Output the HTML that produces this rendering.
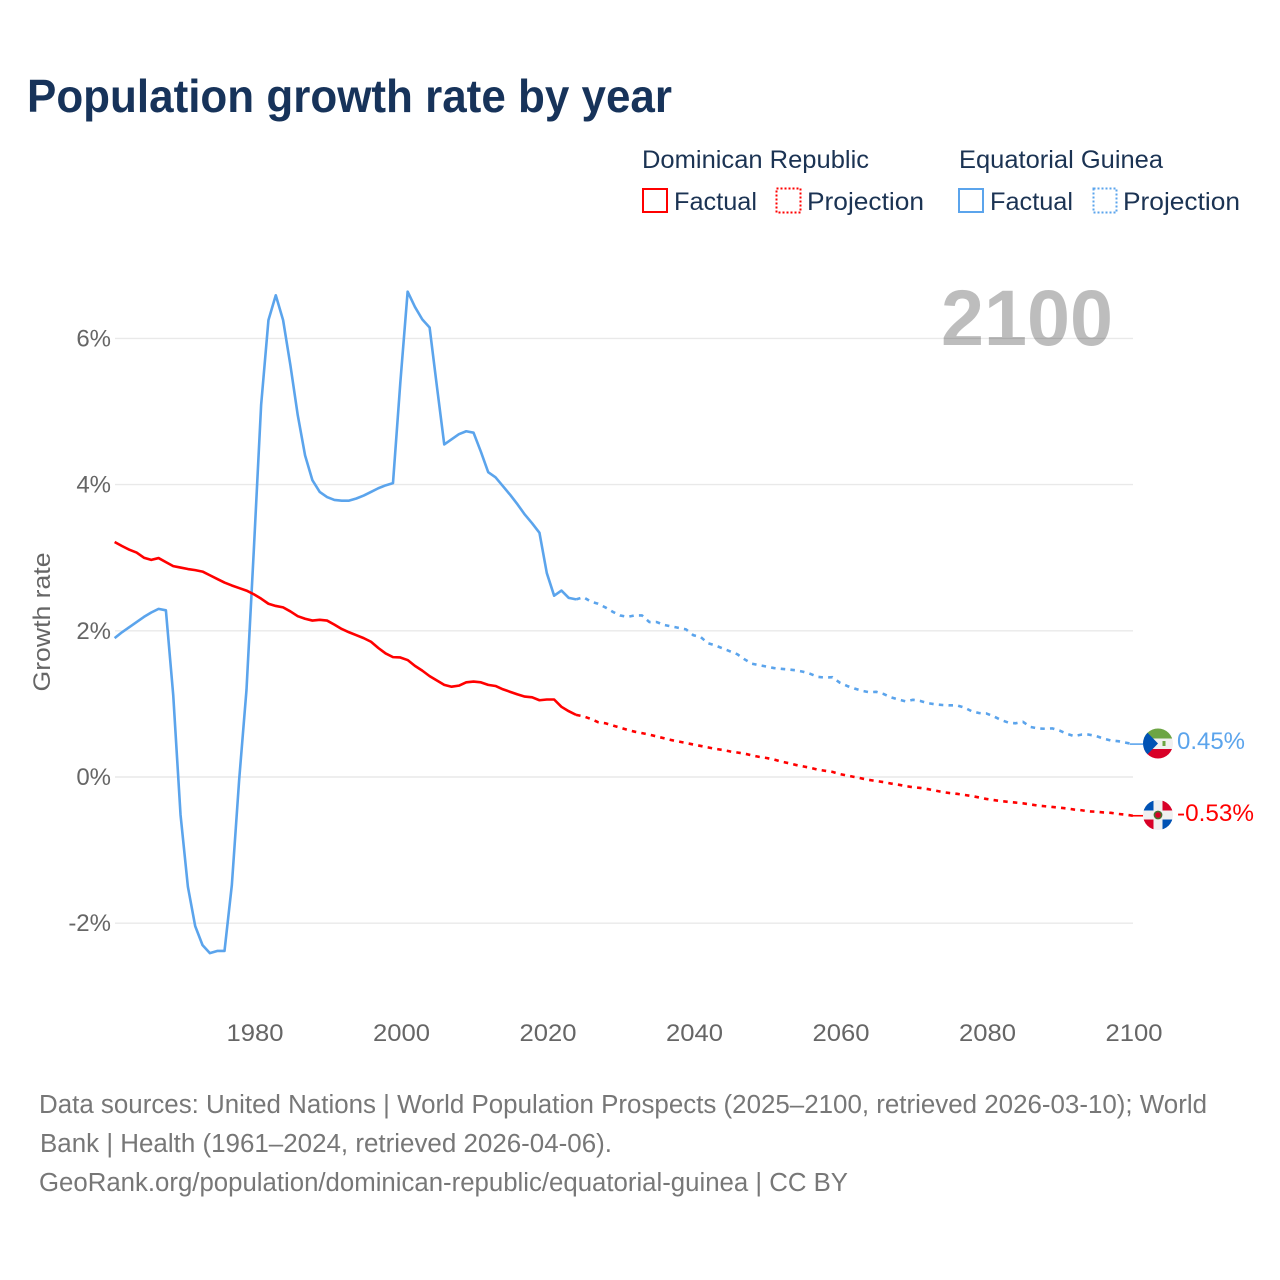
<!DOCTYPE html>
<html lang="en">
<head>
<meta charset="utf-8">
<title>Population growth rate by year</title>
<style>
  html, body { margin: 0; padding: 0; background: #fff; }
  svg { display: block; font-family: "Liberation Sans", sans-serif; }
  .tick { font-size: 24px; fill: #666; }
  .legend { font-size: 25px; fill: #1b3353; }
  .foot { font-size: 25.5px; fill: #777; }
</style>
</head>
<body>
<svg id="chart" width="1280" height="1280" viewBox="0 0 1280 1280" xmlns="http://www.w3.org/2000/svg">
  <defs>
    <clipPath id="flag-clip-a"><circle cx="1158" cy="743.5" r="15"/></clipPath>
    <clipPath id="flag-clip-b"><circle cx="1158" cy="815" r="15"/></clipPath>
  </defs>
  <rect width="1280" height="1280" fill="#fff"/>
  <text x="27" y="112" font-size="46" font-weight="700" fill="#17335a" textLength="645" lengthAdjust="spacingAndGlyphs">Population growth rate by year</text>

  <g>
    <text class="legend" x="642" y="168" textLength="227" lengthAdjust="spacingAndGlyphs">Dominican Republic</text>
    <text class="legend" x="959" y="168" textLength="204" lengthAdjust="spacingAndGlyphs">Equatorial Guinea</text>
    <rect x="643" y="189" width="24" height="23" fill="none" stroke="#ff0000" stroke-width="2"/>
    <text class="legend" x="674" y="210" textLength="83" lengthAdjust="spacingAndGlyphs">Factual</text>
    <rect x="776.5" y="188.5" width="24" height="24" fill="none" stroke="#ff0000" stroke-width="2" stroke-dasharray="2 2"/>
    <text class="legend" x="807" y="210" textLength="117" lengthAdjust="spacingAndGlyphs">Projection</text>
    <rect x="959" y="189" width="24" height="23" fill="none" stroke="#5ba4ec" stroke-width="2"/>
    <text class="legend" x="990" y="210" textLength="83" lengthAdjust="spacingAndGlyphs">Factual</text>
    <rect x="1093.5" y="188.5" width="23" height="24" fill="none" stroke="#5ba4ec" stroke-width="2" stroke-dasharray="2 2"/>
    <text class="legend" x="1123" y="210" textLength="117" lengthAdjust="spacingAndGlyphs">Projection</text>
  </g>

  <g id="grid"></g>
  <g id="yticks"></g>
  <g id="xticks"></g>
  <text transform="translate(50,622) rotate(-90)" text-anchor="middle" font-size="24.5" fill="#666" textLength="139" lengthAdjust="spacingAndGlyphs">Growth rate</text>

  <g id="series"></g>

  <text x="941" y="345" font-size="79" font-weight="700" fill="rgba(0,0,0,0.26)" textLength="172" lengthAdjust="spacingAndGlyphs">2100</text>

  <g clip-path="url(#flag-clip-a)">
    <rect x="1143" y="728" width="30" height="31" fill="#f0f0f0"/>
    <rect x="1143" y="728" width="30" height="10.5" fill="#6da544"/>
    <rect x="1143" y="749" width="30" height="10" fill="#d80027"/>
    <polygon points="1143,728 1158,743.5 1143,759" fill="#0052b4"/>
    <rect x="1162.5" y="741" width="3" height="5" fill="#6da544"/>
  </g>
  <g clip-path="url(#flag-clip-b)">
    <rect x="1143" y="800" width="30" height="30" fill="#f0f0f0"/>
    <rect x="1143" y="800" width="10.5" height="10.5" fill="#0052b4"/>
    <rect x="1162.5" y="800" width="10.5" height="10.5" fill="#d80027"/>
    <rect x="1143" y="819.5" width="10.5" height="10.5" fill="#d80027"/>
    <rect x="1162.5" y="819.5" width="10.5" height="10.5" fill="#0052b4"/>
    <circle cx="1158" cy="815" r="3.6" fill="#d80027" stroke="#496e2d" stroke-width="1.6"/>
  </g>
  <text x="1177" y="749" font-size="24.5" fill="#5ba4ec" textLength="68" lengthAdjust="spacingAndGlyphs">0.45%</text>
  <text x="1177" y="821" font-size="24.5" fill="#ff0000" textLength="77" lengthAdjust="spacingAndGlyphs">-0.53%</text>

  <g>
    <text class="foot" x="39" y="1113" textLength="1168" lengthAdjust="spacingAndGlyphs">Data sources: United Nations | World Population Prospects (2025–2100, retrieved 2026-03-10); World</text>
    <text class="foot" x="40" y="1152" textLength="572" lengthAdjust="spacingAndGlyphs">Bank | Health (1961–2024, retrieved 2026-04-06).</text>
    <text class="foot" x="39" y="1191" textLength="809" lengthAdjust="spacingAndGlyphs">GeoRank.org/population/dominican-republic/equatorial-guinea | CC BY</text>
  </g>
</svg>
<script>
const xTickYears = [1980, 2000, 2020, 2040, 2060, 2080, 2100];
const yTickValues = [-2, 0, 2, 4, 6];
const factualStartYear = 1961;
const projectionStartYear = 2024;

const dominicanFactual = [3.215,3.16,3.11,3.07,3.00,2.97,2.995,2.94,2.885,2.865,2.845,2.83,2.81,2.76,2.71,2.66,2.62,2.585,2.55,2.50,2.44,2.37,2.34,2.32,2.265,2.20,2.165,2.14,2.15,2.14,2.085,2.025,1.98,1.94,1.90,1.85,1.765,1.69,1.64,1.635,1.60,1.52,1.455,1.38,1.32,1.26,1.235,1.25,1.295,1.305,1.295,1.26,1.245,1.20,1.165,1.13,1.10,1.09,1.05,1.06,1.06,0.96,0.90,0.85];
const dominicanProjection = [0.85,0.83,0.795,0.75,0.735,0.705,0.675,0.645,0.62,0.60,0.58,0.555,0.53,0.505,0.485,0.465,0.445,0.425,0.405,0.385,0.37,0.35,0.335,0.32,0.295,0.275,0.26,0.24,0.21,0.19,0.165,0.145,0.125,0.10,0.085,0.07,0.04,0.02,0,-0.02,-0.04,-0.055,-0.07,-0.09,-0.105,-0.125,-0.14,-0.15,-0.165,-0.185,-0.205,-0.22,-0.23,-0.245,-0.26,-0.28,-0.30,-0.315,-0.33,-0.34,-0.35,-0.36,-0.375,-0.39,-0.40,-0.41,-0.42,-0.43,-0.445,-0.455,-0.47,-0.475,-0.485,-0.49,-0.505,-0.515,-0.53];
const guineaFactual = [1.90,1.98,2.05,2.12,2.19,2.25,2.30,2.28,1.12,-0.52,-1.50,-2.04,-2.30,-2.41,-2.38,-2.38,-1.48,-0.04,1.19,3.10,5.09,6.25,6.59,6.25,5.63,4.95,4.40,4.06,3.90,3.83,3.79,3.78,3.78,3.81,3.85,3.90,3.95,3.99,4.02,5.39,6.64,6.43,6.26,6.15,5.34,4.55,4.62,4.69,4.73,4.71,4.45,4.17,4.10,3.98,3.86,3.73,3.59,3.47,3.34,2.79,2.48,2.55,2.45,2.43];
const guineaProjection = [2.43,2.46,2.40,2.37,2.32,2.26,2.21,2.19,2.21,2.21,2.12,2.12,2.08,2.06,2.04,2.02,1.94,1.915,1.83,1.80,1.76,1.72,1.68,1.61,1.55,1.53,1.51,1.49,1.48,1.47,1.46,1.44,1.41,1.37,1.36,1.365,1.29,1.245,1.21,1.18,1.16,1.165,1.135,1.09,1.06,1.035,1.056,1.04,1.01,0.995,0.985,0.98,0.98,0.95,0.90,0.875,0.87,0.83,0.78,0.745,0.735,0.755,0.685,0.665,0.66,0.665,0.635,0.59,0.56,0.58,0.58,0.56,0.525,0.50,0.49,0.47,0.45];

const NS = 'http://www.w3.org/2000/svg';
function xScale(year) { return 253.8 + (year - 1980) * 7.325; }
function yScale(v) { return 777 - v * 73.1; }

function pointsFrom(values, startYear) {
  return values.map(function (v, i) {
    return xScale(startYear + i).toFixed(2) + ',' + yScale(v).toFixed(2);
  }).join(' ');
}

const grid = document.getElementById('grid');
const yticks = document.getElementById('yticks');
const xticks = document.getElementById('xticks');
const series = document.getElementById('series');

yTickValues.forEach(function (v) {
  const line = document.createElementNS(NS, 'line');
  
  
  line.setAttribute('x1', 115);
  line.setAttribute('x2', 1133);
  line.setAttribute('y1', yScale(v));
  line.setAttribute('y2', yScale(v));
  line.setAttribute('stroke', '#e9e9e9');
  line.setAttribute('stroke-width', '1.4');
  grid.appendChild(line);

  const t = document.createElementNS(NS, 'text');
  
  
  t.setAttribute('class', 'tick');
  t.setAttribute('x', 111);
  t.setAttribute('y', yScale(v) + 8);
  t.setAttribute('text-anchor', 'end');
  t.textContent = v + '%';
  yticks.appendChild(t);
});

xTickYears.forEach(function (year) {
  const t = document.createElementNS(NS, 'text');
  
  
  t.setAttribute('class', 'tick');
  t.setAttribute('x', xScale(year) - 27.3);
  t.setAttribute('y', 1041);
  t.setAttribute('textLength', 57);
  t.setAttribute('lengthAdjust', 'spacingAndGlyphs');
  t.textContent = year;
  xticks.appendChild(t);
});

function addLine(values, startYear, color, dashed) {
  const p = document.createElementNS(NS, 'polyline');
  
  
  p.setAttribute('points', pointsFrom(values, startYear));
  p.setAttribute('fill', 'none');
  p.setAttribute('stroke', color);
  p.setAttribute('stroke-width', '2.6');
  p.setAttribute('stroke-linejoin', 'round');
  if (dashed) {
    p.setAttribute('stroke-dasharray', '4.5 5.2');
  }
  series.appendChild(p);
}

function addConnector(values, color) {
  const last = values[values.length - 1];
  const c = document.createElementNS(NS, 'line');
  
  
  c.setAttribute('x1', xScale(2100) - 3);
  c.setAttribute('x2', 1143);
  c.setAttribute('y1', yScale(last));
  c.setAttribute('y2', yScale(last));
  c.setAttribute('stroke', color);
  c.setAttribute('stroke-width', '1.6');
  series.appendChild(c);
}

addLine(guineaFactual, factualStartYear, '#5ba4ec', false);
addLine(guineaProjection, projectionStartYear, '#5ba4ec', true);
addLine(dominicanFactual, factualStartYear, '#ff0000', false);
addLine(dominicanProjection, projectionStartYear, '#ff0000', true);
addConnector(guineaProjection, '#5ba4ec');
addConnector(dominicanProjection, '#ff0000');
</script>
</body>
</html>
